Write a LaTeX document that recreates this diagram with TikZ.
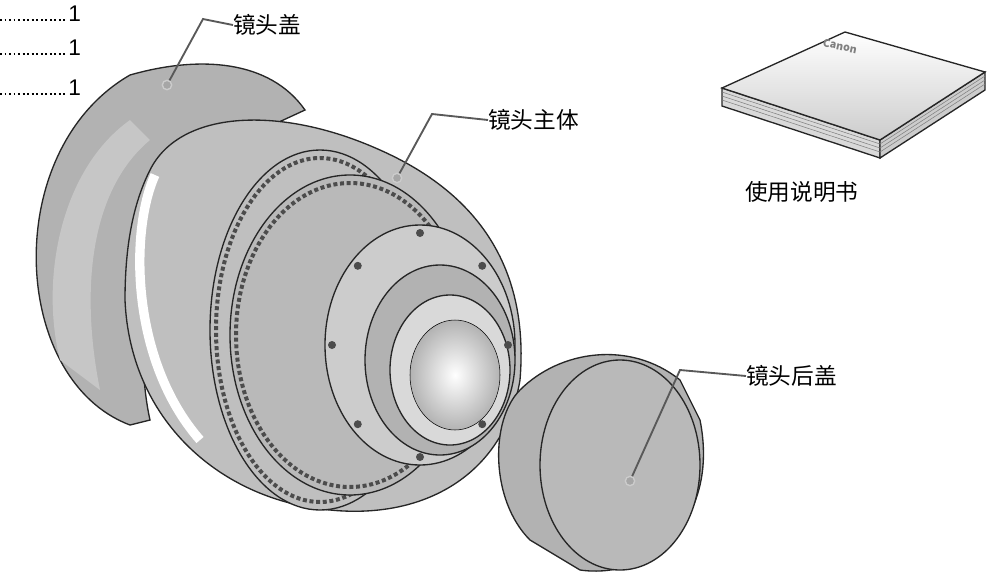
\documentclass[tikz,border=0pt]{standalone}
\usetikzlibrary{calc}
\usepackage{fontspec}
\setmainfont{Noto Sans CJK SC}
\setsansfont{Liberation Sans}
\begin{document}
\begin{tikzpicture}[x=0.75pt,y=-0.75pt,
  lbl/.style={anchor=west,font=\fontsize{17}{20}\selectfont,inner sep=0},
  lead/.style={draw=gray!70!black,line width=1.4pt},
  dotend/.style={circle,draw=gray!40,fill=gray!70,line width=1pt,minimum size=7pt,inner sep=0},
  part/.style={draw=black!85,line width=1pt},
  num/.style={font=\sffamily\fontsize{17}{20}\selectfont,inner sep=0}]
\useasboundingbox (0,0) rectangle (996,579);
% dotted list
\foreach \y/\n in {14/a,48/b,88/c}{
  \draw[dotted,line width=1.4pt] (0,\y+6) -- (66,\y+6);
  \node[num,anchor=west] (n\n) at (68,\y) {1};
}
% lens hood
\fill[gray!60,part] (130,425) .. controls (10,380) and (0,150) .. (130,75) .. controls (200,55) and (270,60) .. (305,110)
  -- (240,140) .. controls (150,160) and (130,330) .. (150,420) -- cycle;
\fill[gray!45] (60,360) .. controls (40,280) and (60,170) .. (130,120) -- (150,140) .. controls (90,190) and (80,290) .. (100,390) -- cycle;
% lens body
\fill[gray!50,part] (150,170) .. controls (180,110) and (280,105) .. (380,150)
  .. controls (470,190) and (530,260) .. (520,380)
  .. controls (505,470) and (430,520) .. (330,510)
  .. controls (220,500) and (130,420) .. (125,300)
  .. controls (125,240) and (135,200) .. (150,170) -- cycle;
\draw[white,line width=7pt] (155,175) .. controls (130,230) and (130,360) .. (200,440);
% rings
\draw[part,fill=gray!50] (320,330) ellipse [x radius=110,y radius=180];
\draw[black!70,dotted,line width=3pt] (320,330) ellipse [x radius=104,y radius=172];
\draw[part,fill=gray!55] (350,335) ellipse [x radius=120,y radius=160];
\draw[black!70,dotted,line width=3pt] (350,335) ellipse [x radius=114,y radius=152];
\draw[part,fill=gray!40] (420,345) ellipse [x radius=95,y radius=120];
\draw[part,fill=gray!60] (440,360) ellipse [x radius=75,y radius=95];
\draw[part,fill=gray!30] (450,370) ellipse [x radius=60,y radius=75];
\shade[inner color=white,outer color=gray!60,draw=black] (455,375) ellipse [x radius=45,y radius=55];
\foreach \a in {0,45,...,315}\fill[black!70] ($(420,345)+(\a:88 and 112)$) circle (4);
% rear cap
\fill[gray!60,part] (520,390) .. controls (560,350) and (630,340) .. (680,380) -- (700,420)
  .. controls (720,520) and (650,580) .. (580,570) -- (530,540) .. controls (490,500) and (490,420) .. (520,390) -- cycle;
\draw[part,fill=gray!55] (620,465) ellipse [x radius=80,y radius=105];
% manual
\fill[gray!30,part] (722,88) -- (880,140) -- (880,158) -- (722,106) -- cycle;
\fill[gray!40,part] (880,140) -- (985,72) -- (985,90) -- (880,158) -- cycle;
\foreach \d in {4,8,12}{\draw[gray] (722,88+\d) -- (880,140+\d) -- (985,72+\d);}
\shade[top color=white,bottom color=gray!40,draw=black!85,line width=1pt] (722,88) -- (845,32) -- (985,72) -- (880,140) -- cycle;
\node[font=\rmfamily\bfseries\itshape\fontsize{8}{9}\selectfont,gray,rotate=-12] (canon) at (840,46) {Canon};
% labels
\node[lbl] (hood) at (233,25) {镜头盖};
\node[dotend] (dh) at (167,85) {};
\coordinate (kh) at (203,19);
\draw[lead] (dh) -- (kh) -- (hood.west);
\node[lbl] (body) at (488,120) {镜头主体};
\node[dotend] (db) at (397,178) {};
\coordinate (kb) at (432,114);
\draw[lead] (db) -- (kb) -- (body.west);
\node[lbl] (man) at (745,192) {使用说明书};
\node[lbl] (rear) at (746,376) {镜头后盖};
\node[dotend] (dr) at (630,481) {};
\coordinate (kr) at (680,370);
\draw[lead] (dr) -- (kr) -- (rear.west);
\end{tikzpicture}
\end{document}
